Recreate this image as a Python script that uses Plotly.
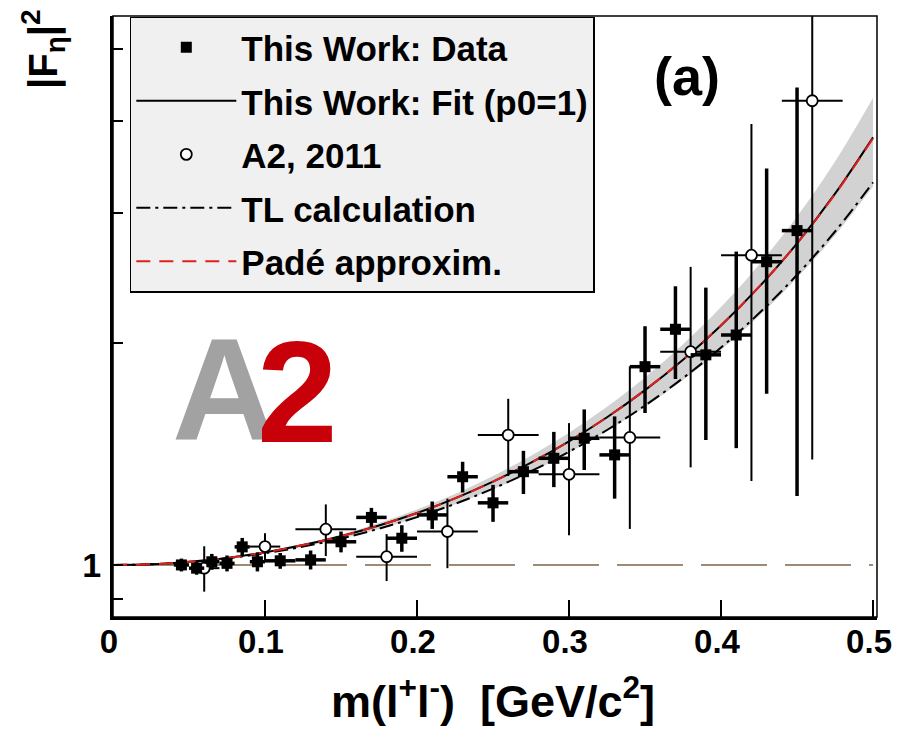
import plotly.graph_objects as go
import math

# ---- data ----
# This Work: data
m_data = [0.045, 0.055, 0.065, 0.075, 0.085, 0.095, 0.11, 0.13, 0.15, 0.17, 0.19, 0.21,
          0.23, 0.25, 0.27, 0.29, 0.31, 0.33, 0.35, 0.37, 0.39, 0.41, 0.43, 0.45]
f_data = [1.000, 0.990, 1.010, 1.005, 1.058, 1.010, 1.013, 1.016, 1.075, 1.160, 1.087, 1.169,
          1.317, 1.214, 1.338, 1.395, 1.485, 1.410, 1.857, 2.087, 1.927, 2.050, 2.577, 2.840]
ey_data = [0.02, 0.02, 0.025, 0.025, 0.03, 0.03, 0.025, 0.03, 0.035, 0.035, 0.045, 0.05,
           0.063, 0.07, 0.09, 0.12, 0.14, 0.18, 0.25, 0.30, 0.45, 0.61, 0.87, 1.60]
ex_data = [0.005, 0.005, 0.005, 0.005, 0.005, 0.005, 0.01, 0.01, 0.01, 0.01, 0.01, 0.01,
           0.01, 0.01, 0.01, 0.01, 0.01, 0.01, 0.01, 0.01, 0.01, 0.01, 0.01, 0.01]

# A2, 2011
m_a2 = [0.06, 0.10, 0.14, 0.18, 0.22, 0.26, 0.30, 0.34, 0.38, 0.42, 0.46]
f_a2 = [0.99, 1.059, 1.118, 1.026, 1.11, 1.50, 1.327, 1.489, 1.946, 2.63, 4.26]
ey_a2 = [0.07, 0.045, 0.09, 0.075, 0.12, 0.18, 0.23, 0.37, 0.59, 1.33, 2.87]
ex_a2 = [0.01, 0.01, 0.02, 0.02, 0.02, 0.02, 0.02, 0.02, 0.02, 0.02, 0.02]

# curves
m_curve = [0.0, 0.025, 0.05, 0.075, 0.10, 0.125, 0.15, 0.175, 0.20, 0.225, 0.25,
           0.275, 0.30, 0.325, 0.35, 0.375, 0.40, 0.425, 0.45, 0.475, 0.50]
f_fit = [1.000, 1.002, 1.010, 1.022, 1.040, 1.064, 1.094, 1.131, 1.176, 1.231, 1.297,
         1.376, 1.471, 1.586, 1.726, 1.898, 2.112, 2.382, 2.729, 3.187, 3.800]
f_band_hi = [1.000, 1.003, 1.010, 1.024, 1.043, 1.068, 1.100, 1.140, 1.189, 1.248, 1.320,
             1.406, 1.511, 1.639, 1.796, 1.991, 2.237, 2.553, 2.967, 3.524, 4.301]
f_band_lo = [1.000, 1.002, 1.009, 1.020, 1.037, 1.058, 1.085, 1.119, 1.160, 1.209, 1.267,
             1.337, 1.420, 1.519, 1.638, 1.782, 1.958, 2.176, 2.450, 2.800, 3.260]
f_tl = [1.000, 1.002, 1.009, 1.021, 1.037, 1.059, 1.086, 1.120, 1.161, 1.210, 1.269,
        1.340, 1.424, 1.524, 1.645, 1.792, 1.971, 2.194, 2.474, 2.832, 3.301]
f_pade = [1.000, 1.002, 1.010, 1.022, 1.040, 1.064, 1.094, 1.131, 1.176, 1.231, 1.297,
          1.376, 1.471, 1.586, 1.727, 1.899, 2.113, 2.383, 2.728, 3.182, 3.790]

ref_x = [0.0, 0.5]
ref_y = [1.0, 1.0]

x_ticks = [0, 0.1, 0.2, 0.3, 0.4, 0.5]
x_ticktext = ["0", "0.1", "0.2", "0.3", "0.4", "0.5"]
y_ticks = [0.9, 1, 2, 3, 4, 5]
y_ticktext = ["", "1", "", "", "", ""]

FONT = "Liberation Sans, Arial, Helvetica, sans-serif"

fig = go.Figure()

# reference line at 1
fig.add_trace(go.Scatter(x=ref_x, y=ref_y, mode="lines", showlegend=False,
                         line=dict(color="#9c8a72", width=2, dash="66px,18px"),
                         hoverinfo="skip"))

# band
fig.add_trace(go.Scatter(x=m_curve, y=f_band_lo, mode="lines", showlegend=False,
                         line=dict(width=0, color="rgba(0,0,0,0)", shape="spline"),
                         hoverinfo="skip"))
fig.add_trace(go.Scatter(x=m_curve, y=f_band_hi, mode="lines", showlegend=False,
                         fill="tonexty", fillcolor="#d2d2d2",
                         line=dict(width=0, color="rgba(0,0,0,0)", shape="spline"),
                         hoverinfo="skip"))

# fit
fig.add_trace(go.Scatter(x=m_curve, y=f_fit, mode="lines", name="This Work: Fit (p0=1)",
                         legendgroup="g2", legendrank=2,
                         line=dict(color="black", width=2, shape="spline")))
# TL
fig.add_trace(go.Scatter(x=m_curve, y=f_tl, mode="lines", name="TL calculation",
                         legendgroup="g4", legendrank=4,
                         line=dict(color="black", width=2, dash="14px,5px,3px,5px",
                                   shape="spline")))
# Pade
fig.add_trace(go.Scatter(x=m_curve, y=f_pade, mode="lines", name="Padé approxim.",
                         legendgroup="g5", legendrank=5,
                         line=dict(color="#e0201c", width=2, dash="14px,9px",
                                   shape="spline")))

# A2 2011
fig.add_trace(go.Scatter(x=m_a2, y=f_a2, mode="markers", name="A2, 2011",
                         legendgroup="g3", legendrank=3,
                         marker=dict(symbol="circle", size=11, color="white",
                                     line=dict(color="black", width=1.8)),
                         error_y=dict(type="data", array=ey_a2, color="black",
                                      thickness=2, width=0),
                         error_x=dict(type="data", array=ex_a2, color="black",
                                      thickness=2, width=0)))

# This Work data
fig.add_trace(go.Scatter(x=m_data, y=f_data, mode="markers", name="This Work: Data",
                         legendgroup="g1", legendrank=1,
                         marker=dict(symbol="square", size=11, color="black"),
                         error_y=dict(type="data", array=ey_data, color="black",
                                      thickness=3.5, width=0),
                         error_x=dict(type="data", array=ex_data, color="black",
                                      thickness=3.5, width=0)))

fig.update_layout(
    width=897, height=732,
    margin=dict(l=113, r=20, t=16, b=115, autoexpand=False),
    paper_bgcolor="white", plot_bgcolor="white",
    font=dict(family=FONT, color="black"),
    showlegend=True,
    legend=dict(x=0.022, y=0.999, xanchor="left", yanchor="top",
                bgcolor="#f0f0f0", bordercolor="black", borderwidth=1.5,
                font=dict(size=35, family=FONT, weight="bold"),
                tracegroupgap=5, itemwidth=100, traceorder="grouped"),
    xaxis=dict(range=[0, 0.5026], tickvals=x_ticks, ticktext=x_ticktext,
               ticks="inside", ticklen=17, tickwidth=2, tickcolor="black",
               showline=True, linewidth=3, linecolor="black",
               showgrid=False, zeroline=False, automargin=False,
               ticklabelstandoff=-7, ticklabelshift=-4, ticklabeloverflow="allow",
               tickfont=dict(size=33, family=FONT, weight="bold")),
    yaxis=dict(type="log", range=[math.log10(0.85), math.log10(5.55)],
               tickvals=y_ticks, ticktext=y_ticktext,
               ticks="inside", ticklen=10, tickwidth=2, tickcolor="black",
               showline=True, linewidth=3, linecolor="black",
               showgrid=False, zeroline=False, automargin=False,
               ticklabelstandoff=2,
               tickfont=dict(size=34, family=FONT, weight="bold")),
    shapes=[dict(type="rect", xref="paper", yref="paper", x0=0, x1=1, y0=0, y1=1,
                 line=dict(color="black", width=1.5), layer="above")],
)

fig.add_annotation(text="(a)", xref="paper", yref="paper", x=0.751, y=0.900,
                   xanchor="center", yanchor="middle",
                   showarrow=False, font=dict(size=54, family=FONT, weight="bold"))
fig.add_annotation(text="A", xref="paper", yref="paper", x=0.146, y=0.380,
                   xanchor="center", yanchor="middle",
                   showarrow=False, font=dict(size=145, family=FONT, weight="bold",
                                              color="#a2a2a2"))
fig.add_annotation(text="2", xref="paper", yref="paper", x=0.242, y=0.375,
                   xanchor="center", yanchor="middle",
                   showarrow=False, font=dict(size=145, family=FONT, weight="bold",
                                              color="#c8000a"))
fig.add_annotation(text="|F<sub>η</sub>|<sup>2</sup>", xref="paper", yref="paper",
                   x=-0.091, y=0.946, textangle=-90, showarrow=False,
                   xanchor="center", yanchor="middle",
                   font=dict(size=40, family=FONT, weight="bold"))
fig.add_annotation(text="m(l<sup>+</sup>l<sup>-</sup>)  [GeV/c<sup>2</sup>]",
                   xref="paper", yref="paper", x=0.497, y=-0.134, showarrow=False,
                   xanchor="center", yanchor="middle",
                   font=dict(size=45, family=FONT, weight="bold"))

# remove the default 8px page margin so the figure fills the window exactly
fig.write_html("out.html", config={"displayModeBar": False},
               post_script="document.body.style.margin='0px';")
